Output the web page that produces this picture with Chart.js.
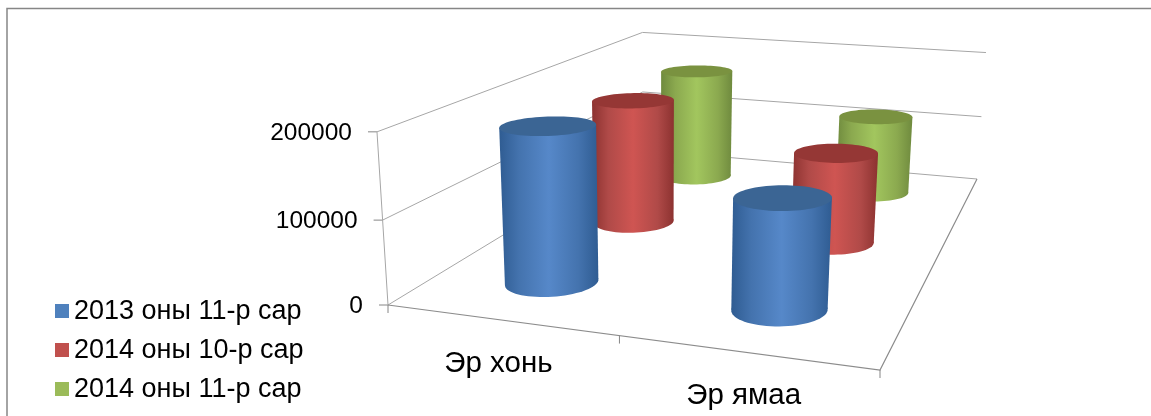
<!DOCTYPE html>
<html>
<head>
<meta charset="utf-8">
<style>
  html, body { margin: 0; padding: 0; background: #fff; }
  canvas { display: block; }
</style>
<script src="https://cdn.jsdelivr.net/npm/chart.js@4"></script>
</head>
<body>
<canvas id="chart" width="1151" height="416"></canvas>
<script>
// data
const categories = ['Эр хонь', 'Эр ямаа'];
const seriesLabels = ['2013 оны 11-р сар', '2014 оны 10-р сар', '2014 оны 11-р сар'];
const values2013Nov = [190000, 131000];
const values2014Oct = [170000, 121000];
const values2014Nov = [166000, 116000];
const yTicks = [0, 100000, 200000];
const seriesColors = ['#4f81bd', '#c0504d', '#9bbb59'];

// shading per series: edge, mid, centre, lid
const shades = [
    ['#2f5c92', '#4473ae', '#5688c9', '#3b6594'],
    ['#8c3230', '#b04a48', '#cf5552', '#953735'],
    ['#6f8a3e', '#8ba94f', '#a2c65e', '#7a9240']
];

const FONT = '"Liberation Sans", Arial, sans-serif';

// floor of the 3D box on screen: front-left, front-right, back-right, back-left
const floor = [[388, 305], [880, 370], [977, 179], [643, 150]];
const vanish = [662, 4618];   // where the upright edges meet
const depthK = -0.0386;       // perspective change for a full height column
const radiusU = 0.094, radiusV = 0.068, ringSkew = 0.007;

// square to quad homography of the floor
const [p0, p1, p2, p3] = floor;
const sx = p0[0] - p1[0] + p2[0] - p3[0], sy = p0[1] - p1[1] + p2[1] - p3[1];
const dx1 = p1[0] - p2[0], dx2 = p3[0] - p2[0], dy1 = p1[1] - p2[1], dy2 = p3[1] - p2[1];
const det = dx1 * dy2 - dx2 * dy1;
const g = (sx * dy2 - dx2 * sy) / det, h = (dx1 * sy - sx * dy1) / det;
const a = p1[0] - p0[0] + g * p1[0], b = p3[0] - p0[0] + h * p3[0];
const d = p1[1] - p0[1] + g * p1[1], e = p3[1] - p0[1] + h * p3[1];

// u along the categories, v into the depth, z 0..1 up the value axis
function project(u, v, z) {
    const w = 1 + g * u + h * v;
    const x = (a * u + b * v + p0[0]) / w;
    const y = (d * u + e * v + p0[1]) / w;
    const t = z * depthK / (w + z * depthK);
    return { x: x + (vanish[0] - x) * t, y: y + (vanish[1] - y) * t };
}

function line(ctx, pts, color, width) {
    ctx.beginPath();
    pts.forEach((p, i) => i ? ctx.lineTo(p.x, p.y) : ctx.moveTo(p.x, p.y));
    ctx.strokeStyle = color;
    ctx.lineWidth = width || 1;
    ctx.stroke();
}

function ring(u, v, z) {
    const pts = [];
    for (let i = 0; i < 72; i++) {
        const th = i / 72 * Math.PI * 2;
        pts.push(project(u + radiusU * Math.cos(th), v + radiusV * Math.sin(th) + ringSkew * Math.cos(th), z));
    }
    return pts;
}

function fillPoly(ctx, pts, fill) {
    ctx.beginPath();
    pts.forEach((p, i) => i ? ctx.lineTo(p.x, p.y) : ctx.moveTo(p.x, p.y));
    ctx.closePath();
    ctx.fillStyle = fill;
    ctx.fill();
}

function drawCylinder(ctx, u, v, z, shade) {
    const bottom = ring(u, v, 0), top = ring(u, v, z);
    const minX = list => list.reduce((m, p) => p.x < m.x ? p : m);
    const maxX = list => list.reduce((m, p) => p.x > m.x ? p : m);
    const l0 = minX(bottom), r0 = maxX(bottom), l1 = minX(top), r1 = maxX(top);
    const left = Math.min(l0.x, l1.x), right = Math.max(r0.x, r1.x);
    const grad = ctx.createLinearGradient(left, 0, right, 0);
    grad.addColorStop(0, shade[0]);
    grad.addColorStop(0.2, shade[1]);
    grad.addColorStop(0.5, shade[2]);
    grad.addColorStop(0.8, shade[1]);
    grad.addColorStop(1, shade[0]);
    fillPoly(ctx, bottom, grad);
    fillPoly(ctx, [l0, l1, r1, r0], grad);
    fillPoly(ctx, top, shade[3]);
}

const box3d = {
    id: 'box3d',
    // move the scale's own labels onto the slanted edges
    beforeDraw(chart) {
        const { x: xs, y: ys } = chart.scales;
        ys.getLabelItems().forEach((item, i) => {
            const z = (ys.bottom - ys.getPixelForValue(ys.ticks[i].value)) / ys.height;
            const p = project(0, 0, z);
            item.options.translation = [p.x - 25, p.y + 1];
        });
        xs.getLabelItems().forEach((item, i) => {
            const u = (xs.getPixelForValue(i) - xs.left) / xs.width;
            const p = project(u, 0, 0);
            item.options.translation = [p.x - 2, p.y + 26];
        });
    },
    beforeDatasetsDraw(chart) {
        const ctx = chart.ctx;
        const { x: xs, y: ys } = chart.scales;
        ctx.save();
        // outer frame
        line(ctx, [{ x: 7, y: 416 }, { x: 7, y: 8.5 }, { x: 1151, y: 8.5 }], '#868686', 1.5);
        // walls
        ys.ticks.forEach(t => {
            const z = (ys.bottom - ys.getPixelForValue(t.value)) / ys.height;
            const q = project(0, 0, z);
            line(ctx, [q, project(0, 1, z), project(1, 1, z)], '#a6a6a6');
            line(ctx, [{ x: q.x - 9, y: q.y }, q], '#868686');
        });
        line(ctx, [project(0, 0, 0), project(0, 0, 1)], '#a6a6a6');
        // floor
        line(ctx, [project(0, 0, 0), project(1, 0, 0), project(1, 1, 0)], '#8c8c8c', 1.2);
        [0, 0.5, 1].forEach(u => {
            const q = project(u, 0, 0);
            line(ctx, [q, { x: q.x, y: q.y + 8 }], '#868686');
        });
        // columns, back series first so the front ones cover them
        for (let ds = chart.data.datasets.length - 1; ds >= 0; ds--) {
            const meta = chart.getDatasetMeta(ds);
            meta.data.forEach((bar, i) => {
                const u = (xs.getPixelForValue(i) - xs.left) / xs.width;
                const v = (ds + 0.5) / chart.data.datasets.length;
                const z = (ys.bottom - bar.y) / ys.height;
                drawCylinder(ctx, u, v, z, shades[ds]);
            });
        }
        ctx.restore();
    },
    // flat bars are replaced by the columns above
    beforeDatasetDraw() {
        return false;
    },
    afterDraw(chart) {
        const ctx = chart.ctx;
        ctx.save();
        ctx.font = '27px ' + FONT;
        ctx.textBaseline = 'middle';
        chart.data.datasets.forEach((ds, i) => {
            const y = 311 + i * 39;
            ctx.fillStyle = ds.backgroundColor;
            ctx.fillRect(55, y - 7, 14, 14);
            ctx.fillStyle = '#000';
            ctx.fillText(ds.label, 74, y + 1);
        });
        ctx.restore();
    }
};

new Chart(document.getElementById('chart'), {
    type: 'bar',
    data: {
        labels: categories,
        datasets: [
            { label: seriesLabels[0], data: values2013Nov, backgroundColor: seriesColors[0] },
            { label: seriesLabels[1], data: values2014Oct, backgroundColor: seriesColors[1] },
            { label: seriesLabels[2], data: values2014Nov, backgroundColor: seriesColors[2] }
        ]
    },
    plugins: [box3d],
    options: {
        responsive: false,
        animation: false,
        layout: { padding: { left: 0, right: 271, top: 132, bottom: 0 } },
        plugins: { legend: { display: false }, tooltip: { enabled: false } },
        scales: {
            x: {
                grid: { display: false },
                border: { display: false },
                ticks: { color: '#000', font: { family: FONT, size: 29.5 }, maxRotation: 0 },
                afterFit: s => { s.height = 111; }
            },
            y: {
                min: 0,
                max: 200000,
                grid: { display: false },
                border: { display: false },
                afterBuildTicks: s => { s.ticks = yTicks.map(v => ({ value: v })); },
                ticks: { color: '#000', font: { family: FONT, size: 24.5 }, callback: v => String(v) },
                afterFit: s => { s.width = 388; }
            }
        }
    }
});
</script>
</body>
</html>
